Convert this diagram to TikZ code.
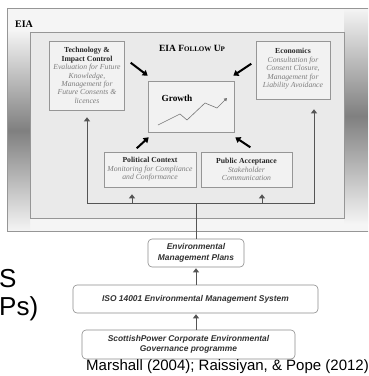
\documentclass[tikz,border=0pt]{standalone}
\usepackage{fontspec}
\setmainfont{Liberation Serif}
\setsansfont{Liberation Sans}
\usetikzlibrary{calc,positioning,arrows.meta}

\definecolor{frame}{RGB}{150,150,150}
\definecolor{panel}{RGB}{234,234,234}
\definecolor{note}{RGB}{125,125,125}
\definecolor{wirecol}{RGB}{85,85,85}
\definecolor{ink}{RGB}{50,50,50}

\newcommand{\boxhead}[1]{\textbf{#1}}
\newcommand{\boxnote}[1]{\textcolor{note}{\textit{#1}}}

\begin{document}
\begin{tikzpicture}[x=1pt,y=-1pt,
    card/.style={draw=frame, fill=panel!60!white, line width=0.6pt, inner sep=0pt,
        align=center, text=black!85, font=\fontsize{7.7}{8.4}\selectfont},
    plan/.style={draw=black!45, fill=white, rounded corners=4pt, line width=0.6pt,
        inner sep=0pt, align=center, text=ink,
        font=\sffamily\bfseries\itshape\fontsize{8.4}{10.5}\selectfont},
    wire/.style={draw=wirecol, line width=0.8pt},
    feed/.style={wire, -{Triangle[width=6pt,length=4pt]}},
    bigarrow/.style={line width=2pt, -{Triangle[width=6.5pt,length=5pt]}},
    sidefade/.style={top color=white!96!black, bottom color=white!96!black, middle color=black!50},
    slide/.style={font=\sffamily\fontsize{26}{26}\selectfont, anchor=base west, inner sep=0pt}]
                \useasboundingbox (0,0) rectangle (368,376);
                \clip (0,0) rectangle (368,376);

                % EIA frame with shaded sides
                \fill[white!96!black] (7,8) rectangle (372,231);
                \shade[sidefade] (7,30) rectangle (30,231);
                \shade[sidefade] (344,8) rectangle (372,224);
                \draw[frame, line width=0.6pt] (7,8) rectangle (372,231);
                \node[font=\bfseries\fontsize{10}{10}\selectfont] (eia) at (24,24) {EIA};

                % Follow up panel
                \draw[frame, fill=panel, line width=0.6pt] (30,32) rectangle (344,218);
                \node[font=\bfseries\fontsize{9.5}{10}\selectfont] (followup) at (192,48)
                    {EIA F{\fontsize{7}{8}\selectfont OLLOW} U{\fontsize{7}{8}\selectfont P}};

                % Cards
                \node[card, minimum width=75pt, minimum height=69pt] (tech) at (87,75.5)
                    {\boxhead{Technology \&}\\\boxhead{Impact Control}\\\boxnote{Evaluation for Future}\\
                     \boxnote{Knowledge,}\\\boxnote{Management for}\\\boxnote{Future Consents \&}\\\boxnote{licences}};
                \node[card, minimum width=74pt, minimum height=58pt, text depth=4pt] (econ) at (293,70)
                    {\boxhead{Economics}\\\boxnote{Consultation for}\\\boxnote{Consent Closure,}\\
                     \boxnote{Management for}\\\boxnote{Liability Avoidance}};
                \node[card, minimum width=92pt, minimum height=35pt] (polit) at (150,169.5)
                    {\boxhead{Political Context}\\\boxnote{Monitoring for Compliance}\\\boxnote{and Conformance}};
                \node[card, minimum width=91pt, minimum height=35pt] (public) at (246.5,169.5)
                    {\boxhead{Public Acceptance}\\\boxnote{Stakeholder}\\\boxnote{Communication}};

                % Growth
                \node[card, fill=white!95!black, minimum width=86pt, minimum height=51pt] (growth) at (191,106.5) {};
                \node[font=\bfseries\fontsize{9.3}{10}\selectfont] (growthlbl) at (177,98) {Growth};
                \draw[wirecol!80, line width=0.6pt, -{Triangle[width=3.5pt,length=3pt]}]
                    (158,125) -- (180,114) -- (187,120) -- (205,103) -- (217,108) -- (227,98);

                \draw[bigarrow] ($(growth.north west)+(-17,-18)$) -- ($(growth.north west)+(0,-5)$);
                \draw[bigarrow] ($(growth.north east)+(17,-17)$) -- ($(growth.north east)+(-1,-5)$);
                \draw[bigarrow] ($(growth.south west)+(-11,16)$) -- ($(growth.south west)+(1,5)$);
                \draw[bigarrow] ($(growth.south east)+(16,15)$) -- ($(growth.south east)+(1,5)$);

                % Plans
                \node[plan, minimum width=96pt, minimum height=28pt] (emp) at (196,253)
                    {Environmental\\Management Plans};
                \node[plan, minimum width=245pt, minimum height=28pt] (iso) at (195.5,299)
                    {ISO 14001 Environmental Management System};
                \node[plan, minimum width=213pt, minimum height=29pt] (scot) at (188.5,344.5)
                    {ScottishPower Corporate Environmental\\Governance programme};

                % Connectors
                \coordinate (hub) at (196,203);
                \coordinate (hubl) at (87,203);
                \coordinate (hubr) at (314,203);
                \coordinate (hubp) at (132,203);
                \coordinate (hubq) at (262,203);
                \draw[wire] (emp.north) -- (hub);
                \draw[feed, shorten >=7pt] (hub) -- (hubl) -- (hubl |- tech.south);
                \draw[feed, shorten >=10pt] (hub) -- (hubr) -- (hubr |- econ.south);
                \draw[feed, shorten >=7pt] (hubp) -- (hubp |- polit.south);
                \draw[feed, shorten >=7pt] (hubq) -- (hubq |- public.south);
                \draw[feed, shorten >=1pt] (emp.south |- iso.north) -- (emp.south);
                \draw[feed, shorten >=1pt] (emp.south |- scot.north) -- (emp.south |- iso.south);

                % Slide text
                \node[slide] (frags) at (-1,287) {S};
                \node[slide] (fragps) at (-1,315) {Ps)};
                \node[font=\sffamily\fontsize{15}{15}\selectfont, anchor=base west, inner sep=0pt] (cite)
                    at (86,370.5) {Marshall (2004); Raissiyan, \& Pope (2012)};
            \end{tikzpicture}
\end{document}
